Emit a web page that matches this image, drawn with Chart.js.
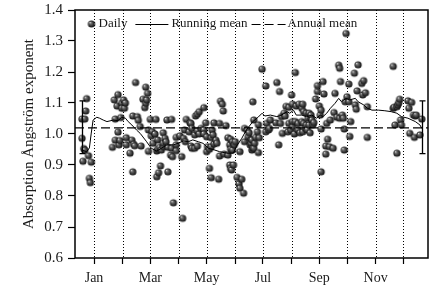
<!DOCTYPE html>
<html>
<head>
<meta charset="utf-8">
<script src="https://cdn.jsdelivr.net/npm/chart.js@4.4.0/dist/chart.umd.min.js"></script>
<style>
  html, body { margin: 0; padding: 0; background: #fff; }
  #wrap { width: 443px; height: 296px; }
</style>
</head>
<body>
<div id="wrap"><canvas id="c" width="443" height="296"></canvas></div>
<script>
(function () {
    'use strict';

    // day of year (axis units) and daily absorption Angstrom exponent
    var dailyDays = [
        2, 2, 5, 6, 7, 4, 5, 9, 3, 12, 10, 11,
        35, 37, 38, 38, 40, 41, 41, 42, 43, 44, 45, 45, 47, 48, 49, 50, 50, 54, 56, 57, 57, 58, 59, 60, 62, 63, 65, 66,
        68, 70, 71, 71, 72, 73, 74, 74, 76, 77, 78, 79, 81, 82, 83, 83, 84, 84, 85, 86,
        87, 88, 90, 90, 90, 92, 93, 94, 95, 95, 98, 99, 99, 100, 101,
        104, 104, 104, 108, 110, 111, 112, 113, 114, 115, 118, 119, 120, 120, 121, 121, 124, 124, 125, 127,
        127, 127, 129, 129, 131, 134, 134, 134,
        136, 137, 137, 138, 140, 140, 142, 142, 142, 143, 144, 145, 145, 147, 148, 150, 151, 151, 152, 154,
        155, 156, 158, 160, 160, 162, 162, 163, 163, 163, 164, 165, 165, 166, 167, 168,
        170, 172, 173, 173, 175, 177, 178, 178, 181, 182, 183, 184, 185, 185, 186, 186, 187, 187, 188, 188,
        189, 190, 192, 193, 193, 194, 197,
        201, 201, 202, 204, 205, 206, 212, 213, 215, 216, 217, 218, 219, 221, 222, 223, 225, 226, 226, 228,
        229, 230, 230, 230, 232, 233, 233, 234,
        236, 236, 237, 238, 240, 240, 241, 241, 242, 242, 244, 245, 245, 246, 247, 248, 248, 249, 250, 250,
        251, 252, 253, 255, 257, 257, 259, 260, 261, 261, 261, 263, 264,
        266, 266, 267, 268, 270, 271, 274, 275, 276, 278, 280, 281, 281, 282, 284, 285, 286, 286, 287, 288,
        289, 291, 291, 292, 293,
        297, 298, 299, 300, 301, 305, 306, 307, 309, 311, 311,
        339, 339, 340, 341, 343, 343, 344, 345, 346, 347, 348, 355, 356, 357, 359, 361, 362, 363, 364, 368,
        370
    ];
    var dailyValues = [
        0.986, 1.048, 1.048, 1.074, 1.114, 0.953, 0.948, 0.930, 0.912, 0.909, 0.857, 0.843,
        0.957, 1.110, 0.980, 1.048, 1.090, 1.127, 1.006, 0.965, 0.979, 1.053, 1.099, 1.083, 1.110, 1.083, 1.100, 0.988, 0.965, 0.938, 0.980, 0.878, 1.058, 0.967, 0.962, 1.166, 1.056, 1.044, 1.024, 0.961,
        1.112, 1.085, 1.151, 1.099, 1.110, 1.131, 1.013, 0.944, 1.047, 0.994, 1.008, 0.970, 1.000, 1.047, 0.945, 0.862, 0.981, 0.951, 0.875, 0.957,
        0.897, 0.948, 0.959, 1.004, 0.970, 0.986, 0.975, 1.045, 0.957, 0.878, 0.932, 1.047, 0.954, 0.927, 0.778,
        0.965, 0.946, 0.989, 0.994, 0.927, 0.728, 0.986, 1.013, 0.975, 1.047, 1.007, 1.036, 0.961, 1.034, 1.018, 0.954, 0.954, 0.997, 1.058, 0.961,
        1.010, 1.064, 1.000, 1.072, 1.018, 1.013, 1.000, 1.085,
        1.036, 0.991, 0.943, 0.959, 0.951, 0.889, 0.988, 0.959, 0.859, 1.013, 0.997, 1.036, 0.968, 0.980, 0.970, 0.854, 1.034, 0.929, 1.106, 1.096,
        1.074, 0.935, 1.027, 0.988, 0.932, 0.965, 0.900, 0.983, 0.951, 0.889, 0.884, 0.975, 0.948, 0.900, 0.965, 0.975,
        0.860, 0.839, 0.943, 0.825, 0.854, 0.809, 1.018, 0.975, 1.013, 0.991, 1.004, 0.965, 0.981, 0.970, 0.981, 0.948, 1.104, 0.954, 1.045, 0.954,
        0.970, 0.989, 1.007, 0.940, 1.030, 0.988, 1.209,
        1.155, 1.007, 1.034, 1.013, 1.018, 1.045, 1.036, 1.166, 0.965, 1.137, 1.034, 1.056, 1.002, 1.067, 1.058, 1.089, 1.007, 1.034, 1.086, 1.013,
        1.126, 1.024, 1.040, 1.096, 1.000, 1.198, 1.040, 1.090,
        1.034, 1.013, 1.096, 1.004, 1.040, 1.083, 1.096, 1.007, 1.034, 1.072, 1.018, 1.029, 1.067, 1.013, 1.051, 1.029, 1.067, 1.004, 1.051, 1.061,
        1.045, 1.030, 1.037, 1.113, 1.137, 1.156, 1.090, 1.061, 1.077, 1.016, 0.878, 1.169, 1.129,
        0.961, 0.935, 1.034, 0.983, 0.959, 1.045, 0.954, 1.069, 1.131, 1.054, 1.222, 1.212, 1.051, 1.169, 1.061, 1.051, 1.016, 0.948, 1.104, 1.324,
        1.120, 1.104, 1.161, 0.992, 1.040,
        1.196, 1.094, 1.080, 1.139, 1.223, 1.163, 1.126, 1.172, 1.133, 1.088, 0.989,
        1.218, 1.083, 1.086, 1.029, 1.088, 0.938, 1.094, 1.101, 1.112, 1.045, 1.029, 1.107, 1.083, 1.002, 1.102, 1.061, 0.989, 1.058, 1.061, 0.997,
        1.048
    ];

    // running mean
    var meanDays = [
        2, 7, 10, 12, 14, 18, 21, 25, 29, 36, 41, 45, 49, 52, 56, 61, 65, 72, 77, 83,
        88, 94, 101, 106, 112, 117, 122, 128, 133, 139, 146, 151, 159, 166, 169, 175, 180, 187, 193, 197,
        200, 206, 213, 218, 224, 227, 231, 234, 240, 245, 251, 256, 260, 263, 267, 271, 276, 280, 283, 288,
        292, 298, 301, 307, 311, 316, 323, 330, 337, 343, 348, 355, 363, 368, 370
    ];
    var meanValues = [
        0.948, 0.943, 0.955, 1.003, 1.045, 1.054, 1.051, 1.045, 1.040, 1.045, 1.043, 1.054, 1.051, 1.040, 1.029, 1.013, 1.002, 0.975, 0.954, 0.945,
        0.954, 0.965, 0.965, 0.970, 0.978, 0.975, 0.981, 0.975, 0.970, 0.954, 0.948, 0.943, 0.938, 0.938, 0.959, 0.986, 1.013, 1.040, 1.055, 1.067,
        1.058, 1.061, 1.056, 1.061, 1.072, 1.067, 1.077, 1.061, 1.061, 1.056, 1.061, 1.051, 1.061, 1.056, 1.067, 1.083, 1.099, 1.115, 1.104, 1.115,
        1.110, 1.115, 1.104, 1.094, 1.083, 1.077, 1.077, 1.075, 1.072, 1.067, 1.056, 1.051, 1.040, 1.029, 1.018
    ];

    var annualMean = 1.02;
    var errorBarDays = [2, 370];
    var errorLow = 0.937;
    var errorHigh = 1.107;

    var xMin = -5.6;
    var xMax = 376.7;
    var monthTickDays = [15, 46, 76, 107, 137, 168, 198, 229, 259, 289, 320, 350];
    var monthLabels = ['Jan', '', 'Mar', '', 'May', '', 'Jul', '', 'Sep', '', 'Nov', ''];
    var yTickValues = [0.6, 0.7, 0.8, 0.9, 1.0, 1.1, 1.2, 1.3, 1.4];

    var SERIF = '"Liberation Serif", "DejaVu Serif", serif';
    var INK = '#1a1a1a';

    function makeBall(r) {
        var c = document.createElement('canvas');
        var s = Math.ceil(r * 2) + 2;
        c.width = s;
        c.height = s;
        var g = c.getContext('2d');
        var cx = s / 2, cy = s / 2;
        var grad = g.createRadialGradient(cx - r * 0.4, cy - r * 0.4, 0.2, cx, cy, r);
        grad.addColorStop(0, '#dcdcdc');
        grad.addColorStop(0.25, '#6e6e6e');
        grad.addColorStop(1, '#0c0c0c');
        g.fillStyle = grad;
        g.beginPath();
        g.arc(cx, cy, r, 0, Math.PI * 2);
        g.fill();
        return c;
    }

    var ball = makeBall(3.6);

    var dailyData = dailyDays.map(function (d, i) {
        return { x: d, y: dailyValues[i] };
    });
    var meanData = meanDays.map(function (d, i) {
        return { x: d, y: meanValues[i] };
    });
    var annualData = [{ x: xMin, y: annualMean }, { x: xMax, y: annualMean }];

    var decor = {
        id: 'decor',
        beforeDatasetsDraw: function (chart) {
            var ctx = chart.ctx, a = chart.chartArea, xs = chart.scales.x;
            ctx.save();
            ctx.strokeStyle = '#000';
            ctx.lineWidth = 1;
            ctx.setLineDash([1, 2]);
            monthTickDays.forEach(function (d) {
                var px = Math.round(xs.getPixelForValue(d)) + 0.5;
                ctx.beginPath();
                ctx.moveTo(px, a.top);
                ctx.lineTo(px, a.bottom);
                ctx.stroke();
            });
            ctx.restore();
        },
        afterDatasetsDraw: function (chart) {
            var ctx = chart.ctx, a = chart.chartArea;
            var xs = chart.scales.x, ys = chart.scales.y;
            ctx.save();

            // error bars (annual mean +/- sd)
            ctx.strokeStyle = '#000';
            ctx.lineWidth = 1.3;
            errorBarDays.forEach(function (d) {
                var px = Math.round(xs.getPixelForValue(d)) + 0.5;
                var y1 = ys.getPixelForValue(errorHigh);
                var y2 = ys.getPixelForValue(errorLow);
                ctx.beginPath();
                ctx.moveTo(px, y1); ctx.lineTo(px, y2);
                ctx.moveTo(px - 3, y1); ctx.lineTo(px + 3, y1);
                ctx.moveTo(px - 3, y2); ctx.lineTo(px + 3, y2);
                ctx.stroke();
            });

            // frame
            ctx.lineWidth = 1.5;
            ctx.strokeRect(a.left, a.top, a.right - a.left, a.bottom - a.top);

            // legend
            var ly = a.top + 14;
            ctx.font = '13px ' + SERIF;
            ctx.fillStyle = INK;
            ctx.textBaseline = 'middle';
            var x = a.left + 16.5;
            ctx.drawImage(ball, x - ball.width / 2, ly - ball.height / 2);
            x += 7;
            ctx.fillText('Daily', x, ly);
            x += ctx.measureText('Daily').width + 8;
            ctx.lineWidth = 1;
            ctx.beginPath();
            ctx.moveTo(x, ly + 0.5); ctx.lineTo(x + 33, ly + 0.5);
            ctx.stroke();
            x += 36;
            ctx.fillText('Running mean', x, ly);
            x += ctx.measureText('Running mean').width + 4;
            ctx.lineWidth = 1.2;
            ctx.setLineDash([9, 4]);
            ctx.beginPath();
            ctx.moveTo(x, ly + 0.5); ctx.lineTo(x + 34, ly + 0.5);
            ctx.stroke();
            ctx.setLineDash([]);
            x += 36;
            ctx.fillText('Annual mean', x, ly);
            ctx.restore();
        }
    };

    new Chart(document.getElementById('c').getContext('2d'), {
        type: 'scatter',
        data: {
            datasets: [
                {
                    label: 'Annual mean',
                    type: 'line',
                    data: annualData,
                    borderColor: '#000',
                    borderWidth: 1.2,
                    borderDash: [9, 4],
                    pointRadius: 0,
                    fill: false,
                    order: 1
                },
                {
                    label: 'Daily',
                    data: dailyData,
                    pointStyle: ball,
                    pointRadius: 4,
                    showLine: false,
                    order: 3
                },
                {
                    label: 'Running mean',
                    type: 'line',
                    data: meanData,
                    borderColor: '#000',
                    borderWidth: 1,
                    pointRadius: 0,
                    tension: 0,
                    fill: false,
                    order: 2
                }
            ]
        },
        options: {
            responsive: false,
            animation: false,
            events: [],
            layout: { padding: { left: 0, right: 15, top: 10, bottom: 0 } },
            plugins: {
                legend: { display: false },
                tooltip: { enabled: false }
            },
            scales: {
                x: {
                    type: 'linear',
                    min: xMin,
                    max: xMax,
                    afterBuildTicks: function (scale) {
                        scale.ticks = monthTickDays.map(function (d) { return { value: d }; });
                    },
                    afterFit: function (scale) {
                        scale.height = 38;
                        scale.paddingLeft = 0;
                        scale.paddingRight = 0;
                    },
                    ticks: {
                        autoSkip: false,
                        maxRotation: 0,
                        padding: 6,
                        color: INK,
                        font: { family: SERIF, size: 14 },
                        callback: function (value, index) {
                            return monthLabels[index];
                        }
                    },
                    grid: {
                        drawOnChartArea: false,
                        drawTicks: true,
                        tickLength: 6,
                        tickColor: '#000',
                        tickWidth: 1.2
                    },
                    border: { display: false }
                },
                y: {
                    min: 0.6,
                    max: 1.4,
                    afterBuildTicks: function (scale) {
                        scale.ticks = yTickValues.map(function (v) { return { value: v }; });
                    },
                    afterFit: function (scale) {
                        scale.width = 75;
                        scale.paddingTop = 0;
                        scale.paddingBottom = 0;
                    },
                    ticks: {
                        padding: 5,
                        color: INK,
                        font: { family: SERIF, size: 15 },
                        callback: function (value) {
                            return Number(value).toFixed(1);
                        }
                    },
                    grid: {
                        drawOnChartArea: false,
                        drawTicks: true,
                        tickLength: 7,
                        tickColor: '#000',
                        tickWidth: 1.2
                    },
                    border: { display: false },
                    title: {
                        display: true,
                        text: 'Absorption Ångström exponent',
                        color: INK,
                        font: { family: SERIF, size: 15 },
                        padding: { top: 20, bottom: 0 }
                    }
                }
            }
        },
        plugins: [decor]
    });
})();
</script>
</body>
</html>
